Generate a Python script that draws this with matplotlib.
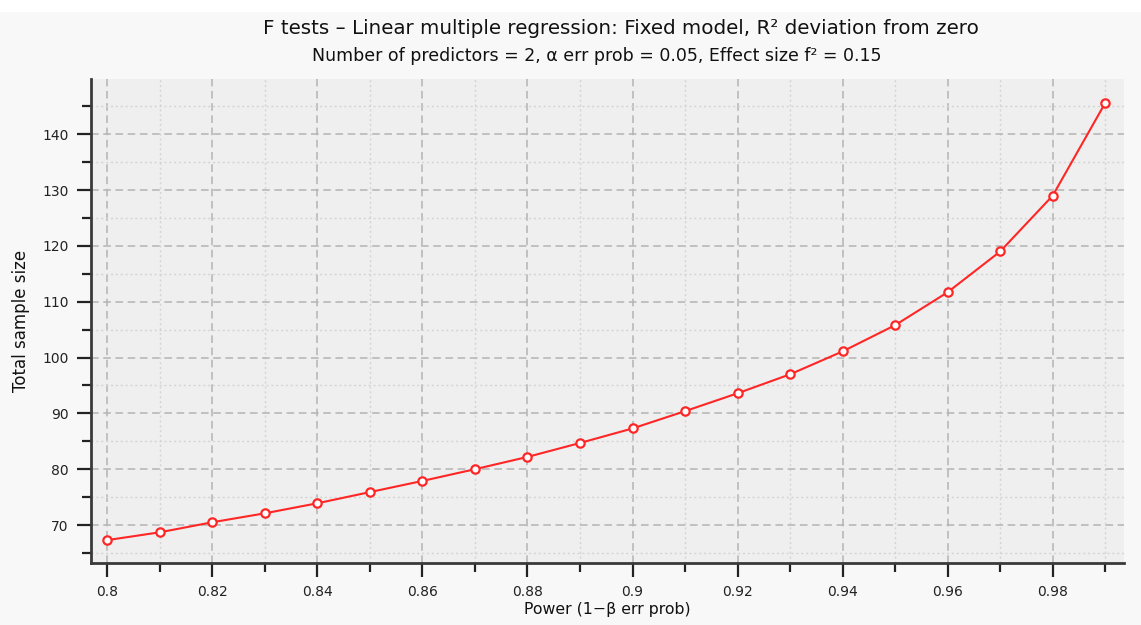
import matplotlib
matplotlib.use('Agg')
import matplotlib.pyplot as plt
from matplotlib.patches import Rectangle
from matplotlib.ticker import MultipleLocator, FixedLocator

# Power values and total sample size
power = [0.80, 0.81, 0.82, 0.83, 0.84, 0.85, 0.86, 0.87, 0.88, 0.89,
         0.90, 0.91, 0.92, 0.93, 0.94, 0.95, 0.96, 0.97, 0.98, 0.99]
sample_size = [67.3, 68.7, 70.5, 72.1, 73.9, 75.9, 77.9, 80.0, 82.2, 84.7,
               87.3, 90.4, 93.6, 97.0, 101.1, 105.8, 111.7, 119.0, 129.0, 145.6]

x_ticks = [0.8, 0.82, 0.84, 0.86, 0.88, 0.9, 0.92, 0.94, 0.96, 0.98]
x_tick_labels = ['0.8', '0.82', '0.84', '0.86', '0.88', '0.9', '0.92', '0.94', '0.96', '0.98']
y_ticks = [70, 80, 90, 100, 110, 120, 130, 140]

plt.rcParams['font.family'] = ['DejaVu Sans']

fig = plt.figure(figsize=(11.41, 6.25), dpi=100)
fig.patch.set_facecolor('#f8f8f8')
# white strip along the top edge
fig.patches.append(Rectangle((0, 1 - 12 / 625), 1, 12 / 625, transform=fig.transFigure,
                             facecolor='white', edgecolor='none', zorder=0))

ax = fig.add_axes([91 / 1141, 1 - 563 / 625, (1124 - 91) / 1141, (563 - 79) / 625])
ax.set_facecolor('#efefef')

ax.plot(power, sample_size, color='#ff2626', linewidth=1.5, marker='o', markersize=6,
        markerfacecolor='white', markeredgecolor='#ff2626', markeredgewidth=1.6, zorder=3)

ax.set_xlim(0.7969, 0.99358)
ax.set_ylim(63.2, 149.9)

ax.xaxis.set_major_locator(FixedLocator(x_ticks))
ax.set_xticklabels(x_tick_labels)
ax.xaxis.set_minor_locator(MultipleLocator(0.01))
ax.yaxis.set_major_locator(FixedLocator(y_ticks))
ax.yaxis.set_minor_locator(MultipleLocator(5))

ax.grid(which='major', color='#b4b4b4', linestyle=(0, (5, 3)), linewidth=1.1)
ax.grid(which='minor', color='#d4d4d4', linestyle=(0, (1.5, 2)), linewidth=1.0)
ax.set_axisbelow(True)

for side in ['top', 'right']:
    ax.spines[side].set_visible(False)
for side in ['left', 'bottom']:
    ax.spines[side].set_color('#3a3a3a')
    ax.spines[side].set_linewidth(2)

ax.tick_params(which='major', direction='out', length=10, width=1.6, color='#222222',
               labelsize=10, labelcolor='#222222', pad=6)
ax.tick_params(which='minor', direction='out', length=6.5, width=1.6, color='#222222')

ax.set_xlabel('Power (1\u2212\u03b2 err prob)', fontsize=11.3, color='#111111', labelpad=2)
ax.set_ylabel('Total sample size', fontsize=12, color='#111111', labelpad=9)

fig.text(0.544, 1 - 28 / 625, 'F tests \u2013 Linear multiple regression: Fixed model, R\u00b2 deviation from zero',
         ha='center', va='center', fontsize=14.3, color='#111111')
fig.text(0.523, 1 - 56 / 625, 'Number of predictors = 2, \u03b1 err prob = 0.05, Effect size f\u00b2 = 0.15',
         ha='center', va='center', fontsize=12.5, color='#111111')

fig.savefig('out.png', dpi=100, facecolor=fig.get_facecolor())
